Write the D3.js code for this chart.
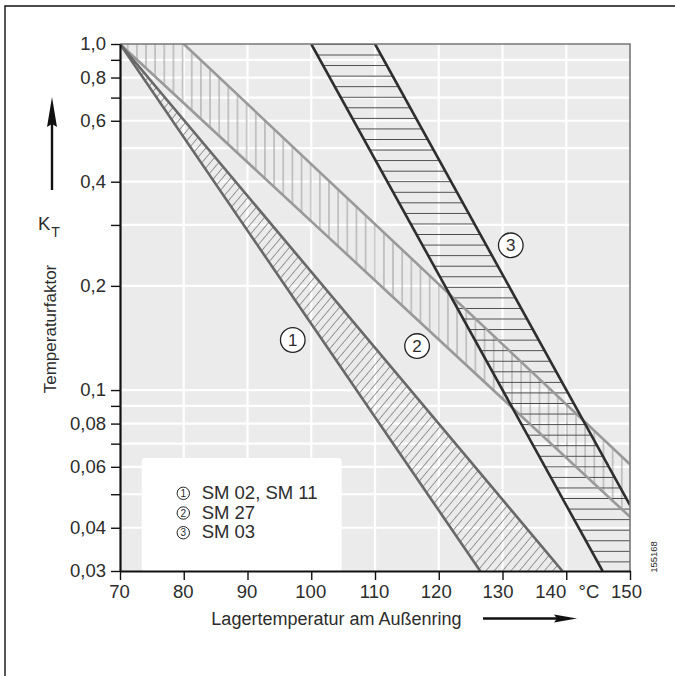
<!DOCTYPE html>
<html>
<head>
<meta charset="utf-8">
<script src="https://cdn.jsdelivr.net/npm/d3@7"></script>
<style>
  html, body { margin: 0; padding: 0; background: #fff; }
  svg { display: block; }
  text { font-family: "Liberation Sans", Arial, Helvetica, sans-serif; fill: #2c2c2c; }
</style>
</head>
<body>
<svg id="chart" width="675" height="676"></svg>
<script>
// Bearing temperature (°C) on the x axis
const xTicks = [70, 80, 90, 100, 110, 120, 130, 140, 150];
// Temperature factor K_T on a log axis
const yTicksLabeled = [1.0, 0.8, 0.6, 0.4, 0.2, 0.1, 0.08, 0.06, 0.04, 0.03];
const yTicksMinor = [0.9, 0.7, 0.3, 0.09, 0.07, 0.05];
const yGridValues = [0.9, 0.8, 0.7, 0.6, 0.5, 0.4, 0.3, 0.2, 0.1, 0.09, 0.08, 0.07, 0.06, 0.05, 0.04];

// Band limits as [temperature, K_T] pairs
const sm1Flat   = [[70, 1.0], [139.4, 0.03]];
const sm1Steep  = [[70, 1.0], [126.5, 0.03]];
const sm27Upper = [[80, 1.0], [150, 0.061]];
const sm27Lower = [[70, 1.0], [150, 0.043]];
const sm03Left  = [[100, 1.0], [145.7, 0.03]];
const sm03Right = [[110, 1.0], [150, 0.0465]];

// Circled markers on the bands
const bandMarkers = [
  { id: "1", t: 97.1, k: 0.1395 },
  { id: "2", t: 116.6, k: 0.134 },
  { id: "3", t: 131.3, k: 0.262 }
];
const legendItems = [
  { id: "1", label: "SM 02, SM 11" },
  { id: "2", label: "SM 27" },
  { id: "3", label: "SM 03" }
];

const svg = d3.select("#chart");
const W = 675, H = 676;
const plot = { left: 120, right: 630, top: 44, bottom: 571 };

svg.append("rect").attr("width", W).attr("height", H).attr("fill", "#fff");

const x = d3.scaleLinear().domain([70, 150]).range([plot.left, plot.right]);
const y = d3.scaleLog().domain([0.03, 1.0]).range([plot.bottom, plot.top]);

// outer frame (top and left edges)
svg.append("path")
  .attr("d", `M5,${H} L5,6 L${W},6`)
  .attr("fill", "none").attr("stroke", "#111").attr("stroke-width", 1.4);

// plot background
svg.append("rect")
  .attr("x", plot.left).attr("y", plot.top)
  .attr("width", plot.right - plot.left).attr("height", plot.bottom - plot.top)
  .attr("fill", "#eaebea");

// white grid
const grid = svg.append("g").attr("stroke", "#fff").attr("stroke-width", 2.2);
grid.selectAll("line.h").data(yGridValues).join("line")
  .attr("x1", plot.left).attr("x2", plot.right)
  .attr("y1", d => y(d)).attr("y2", d => y(d));
grid.selectAll("line.v").data(xTicks.slice(1, -1)).join("line")
  .attr("y1", plot.top).attr("y2", plot.bottom)
  .attr("x1", d => x(d)).attr("x2", d => x(d));

// legend box
const legendBox = { x: 141.7, y: 458, w: 200, h: plot.bottom - 458 };
svg.append("rect")
  .attr("x", legendBox.x).attr("y", legendBox.y)
  .attr("width", legendBox.w).attr("height", legendBox.h + 4)
  .attr("rx", 4).attr("fill", "#fff");

// hatch patterns
const defs = svg.append("defs");
const p1 = defs.append("pattern").attr("id", "hatchDiag")
  .attr("patternUnits", "userSpaceOnUse").attr("width", 6.4).attr("height", 10)
  .attr("patternTransform", "rotate(40)");
p1.append("line").attr("x1", 3.2).attr("x2", 3.2).attr("y1", -1).attr("y2", 11)
  .attr("stroke", "#8a8a8a").attr("stroke-width", 0.9);

const p2 = defs.append("pattern").attr("id", "hatchVert")
  .attr("patternUnits", "userSpaceOnUse").attr("width", 9.15).attr("height", 10)
  .attr("x", 127.7 - 9.15 / 2);
p2.append("line").attr("x1", 9.15 / 2).attr("x2", 9.15 / 2).attr("y1", -1).attr("y2", 11)
  .attr("stroke", "#9c9c9c").attr("stroke-width", 1);

const p3 = defs.append("pattern").attr("id", "hatchHoriz")
  .attr("patternUnits", "userSpaceOnUse").attr("width", 10).attr("height", 10.56)
  .attr("y", 55 - 10.56 / 2);
p3.append("line").attr("y1", 10.56 / 2).attr("y2", 10.56 / 2).attr("x1", -1).attr("x2", 11)
  .attr("stroke", "#4a4a4a").attr("stroke-width", 1);

defs.append("clipPath").attr("id", "plotClip").append("rect")
  .attr("x", plot.left).attr("y", plot.top)
  .attr("width", plot.right - plot.left).attr("height", plot.bottom - plot.top);

const line = d3.line().x(d => x(d[0])).y(d => y(d[1]));
const bands = svg.append("g").attr("clip-path", "url(#plotClip)");

const band1 = [...sm1Flat, ...sm1Steep.slice().reverse()];
const band2 = [...sm27Upper, ...sm27Lower.slice().reverse()];
const band3 = [...sm03Right, [150, 0.03], ...sm03Left.slice().reverse()];

bands.append("path").attr("d", line(band1) + "Z").attr("fill", "url(#hatchDiag)");
bands.append("path").attr("d", line(band2) + "Z").attr("fill", "url(#hatchVert)");
bands.append("path").attr("d", line(band3) + "Z").attr("fill", "url(#hatchHoriz)");

const edges = [
  { pts: sm27Upper, color: "#999999" },
  { pts: sm27Lower, color: "#999999" },
  { pts: sm1Flat, color: "#686868" },
  { pts: sm1Steep, color: "#686868" },
  { pts: sm03Left, color: "#2e2e2e" },
  { pts: sm03Right, color: "#2e2e2e" }
];
bands.selectAll("path.edge").data(edges).join("path")
  .attr("class", "edge")
  .attr("d", d => line(d.pts))
  .attr("fill", "none")
  .attr("stroke", d => d.color)
  .attr("stroke-width", 2.6);

// plot frame: grey top/right, black axes left/bottom
svg.append("path")
  .attr("d", `M${plot.left},${plot.top} L${plot.right},${plot.top} L${plot.right},${plot.bottom}`)
  .attr("fill", "none").attr("stroke", "#777").attr("stroke-width", 1.6);

// axes
const fmt = d => (d >= 0.1 ? d3.format(".1f")(d) : d3.format(".2f")(d)).replace(".", ",");

const yAxis = svg.append("g").attr("transform", `translate(${plot.left},0)`)
  .call(d3.axisLeft(y).tickValues(yTicksLabeled).tickFormat(fmt).tickSize(9).tickPadding(5).tickSizeOuter(0));
const yMinor = svg.append("g").attr("transform", `translate(${plot.left},0)`)
  .call(d3.axisLeft(y).tickValues(yTicksMinor).tickFormat("").tickSize(9).tickSizeOuter(0));
const xAxis = svg.append("g").attr("transform", `translate(0,${plot.bottom})`)
  .call(d3.axisBottom(x).tickValues(xTicks).tickFormat(d3.format("d")).tickSize(9).tickPadding(5).tickSizeOuter(0));

[yAxis, yMinor, xAxis].forEach(g => {
  g.select(".domain").attr("stroke", "#111").attr("stroke-width", 2.2);
  g.selectAll(".tick line").attr("stroke", "#111").attr("stroke-width", 1.4);
  g.selectAll(".tick text")
    .attr("font-family", "'Liberation Sans', Arial, sans-serif")
    .attr("font-size", 18.5).attr("fill", "#2c2c2c");
});
yMinor.select(".domain").remove();

// nudge the right-hand x labels left so the unit fits beside "140"
const xLabelShift = { 120: -3, 130: -5, 140: -16, 150: -4 };
xAxis.selectAll(".tick text").attr("x", d => xLabelShift[d] || -1);

// unit label
svg.append("text").attr("x", 589).attr("y", 598)
  .attr("text-anchor", "middle").attr("font-size", 18.5).text("°C");

// axis titles
svg.append("text").attr("x", 461.5).attr("y", 625)
  .attr("text-anchor", "end").attr("font-size", 18).text("Lagertemperatur am Außenring");

svg.append("text")
  .attr("transform", "translate(56,329) rotate(-90)")
  .attr("text-anchor", "middle").attr("font-size", 17).text("Temperaturfaktor");

const kt = svg.append("text").attr("x", 38).attr("y", 230).attr("font-size", 18.5);
kt.append("tspan").text("K");
kt.append("tspan").attr("dy", 7).attr("font-size", 14).attr("dx", 1).text("T");

// direction arrows
svg.append("line").attr("x1", 52).attr("x2", 52).attr("y1", 190).attr("y2", 120)
  .attr("stroke", "#111").attr("stroke-width", 2.4);
svg.append("path").attr("d", "M52,97 L57,127 L52,124 L47,127 Z").attr("fill", "#111");

svg.append("line").attr("x1", 483).attr("x2", 560).attr("y1", 618.5).attr("y2", 618.5)
  .attr("stroke", "#111").attr("stroke-width", 2.4);
svg.append("path").attr("d", "M577,618.5 L554,614.5 L557,618.5 L554,622.5 Z").attr("fill", "#111");

// circled band markers
const markers = svg.append("g").selectAll("g").data(bandMarkers).join("g")
  .attr("transform", d => `translate(${x(d.t)},${y(d.k)})`);
markers.append("circle").attr("r", 12.3).attr("fill", "#fff").attr("stroke", "#222").attr("stroke-width", 1.3);
markers.append("text").attr("text-anchor", "middle").attr("dy", "0.36em")
  .attr("font-size", 17).text(d => d.id);

// legend entries
const leg = svg.append("g").selectAll("g").data(legendItems).join("g")
  .attr("transform", (d, i) => `translate(183.3,${493.3 + i * 19.7})`);
leg.append("circle").attr("r", 6.2).attr("fill", "#fff").attr("stroke", "#222").attr("stroke-width", 1);
leg.append("text").attr("text-anchor", "middle").attr("dy", "0.36em")
  .attr("font-size", 10).text(d => d.id);
leg.append("text").attr("x", 18.4).attr("dy", 5.5).attr("font-size", 18.5).text(d => d.label);

// drawing number
svg.append("text")
  .attr("transform", "translate(657,557) rotate(-90)")
  .attr("text-anchor", "middle").attr("font-size", 9.5).text("155168");
</script>
</body>
</html>
